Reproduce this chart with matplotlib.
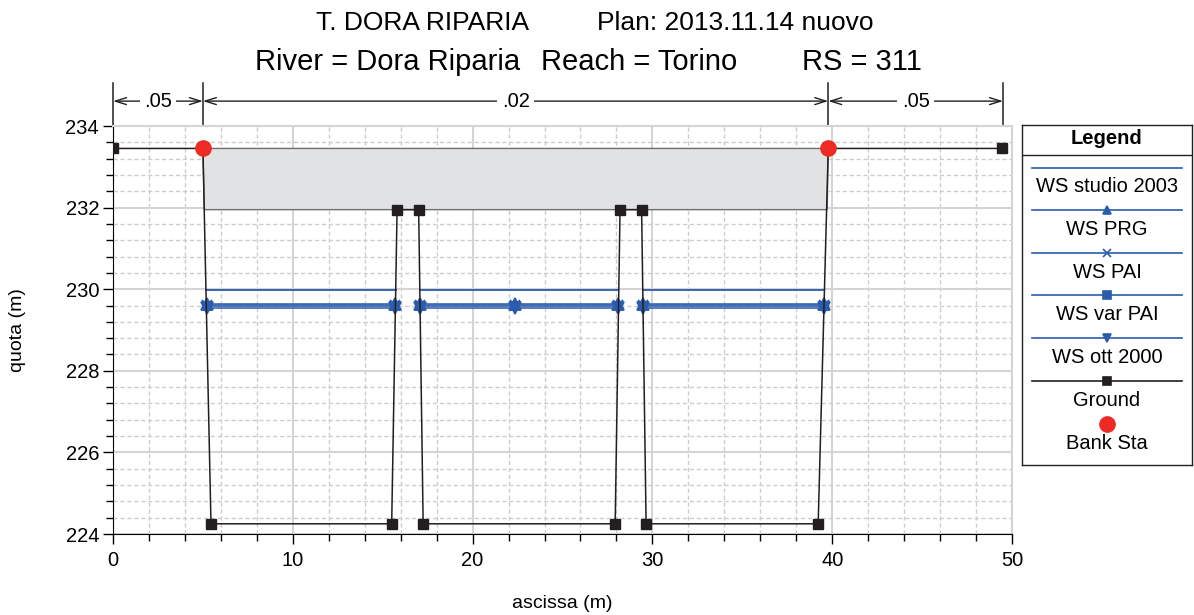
import numpy as np
import matplotlib.pyplot as plt
from matplotlib.patches import Polygon
import matplotlib.transforms as mtransforms

plt.rcParams['font.family'] = ['Liberation Sans', 'DejaVu Sans']

# ground profile (station, elevation)
ground_x = [0.0, 5.0, 5.45, 15.5, 15.8, 17.0, 17.25, 27.93, 28.2, 29.4, 29.65, 39.22, 39.78, 49.45]
ground_y = [233.45, 233.45, 224.25, 224.25, 231.95, 231.95, 224.25, 224.25,
            231.95, 231.95, 224.25, 224.25, 233.45, 233.45]

# bank stations
bank_x = [5.0, 39.78]
bank_y = [233.45, 233.45]

# bridge deck outline
deck_x = [5.0, 39.78, 39.72, 5.08]
deck_y = [233.45, 233.45, 231.95, 231.95]

# water surfaces
ws2003_x = [5.19, 15.72, np.nan, 17.06, 28.09, np.nan, 29.45, 39.56]
ws2003_z = 229.98
ws_x = [5.21, 15.71, np.nan, 17.07, 22.37, 28.08, np.nan, 29.46, 39.55]
ws_names = ['WS PRG', 'WS PAI', 'WS var PAI', 'WS ott 2000']
ws_z = [229.64, 229.61, 229.58, 229.55]
ws_markers = ['^', 'x', 's', 'v']
ws_msize = [8, 7, 5.5, 8]

# Manning's n zones
n_bounds = [0.0, 5.0, 39.78, 49.5]
n_labels = ['.05', '.02', '.05']

blue = '#2b5cab'
dark = '#231f20'

fig = plt.figure(figsize=(11.94, 6.15), dpi=100)
ax = fig.add_axes([113 / 1194, 81 / 615, 899 / 1194, 408 / 615])

ax.add_patch(Polygon(np.column_stack([deck_x, deck_y]), closed=True,
                     fc='#e1e2e4', ec='#6d6e71', lw=1.0, zorder=2))

ax.plot(ws2003_x, [ws2003_z] * len(ws2003_x), color=blue, lw=1.3, zorder=3)
for z, m, ms in zip(ws_z, ws_markers, ws_msize):
    ax.plot(ws_x, [z] * len(ws_x), color='#3a66b2', lw=1.2, marker=m, ms=ms,
            mew=1.2, mfc=blue, mec=blue, zorder=3)

ax.plot(ground_x, ground_y, color=dark, lw=1.1, marker='s', ms=7, zorder=4)
ax.plot(bank_x, bank_y, 'o', color='#ee2a24', ms=11, zorder=5)

ax.set_xlim(0, 50)
ax.set_ylim(224, 234)
ax.set_xticks(np.arange(0, 51, 10))
ax.set_xticks(np.arange(0, 51, 2), minor=True)
ax.set_yticks(np.arange(224, 235, 2))
ax.set_yticks(np.arange(224, 234.01, 0.4), minor=True)
ax.grid(which='major', color='#d4d4d4', lw=1.5, ls='-')
ax.grid(which='minor', color='#cdcdcd', lw=1.0, ls=(0, (3, 2)))
ax.set_axisbelow(True)
ax.tick_params(which='major', direction='out', length=7, width=1, labelsize=14.5, pad=3)
ax.tick_params(which='minor', direction='out', length=5, width=1)
ax.tick_params(axis='x', which='major', pad=5)
for s in ['top', 'right']:
    ax.spines[s].set_color('#d4d4d4')
    ax.spines[s].set_linewidth(1.5)
ax.set_xlabel('ascissa (m)', fontsize=14)
ax.set_ylabel('quota (m)', fontsize=14)
ax.xaxis.set_label_coords(0.5, (534 - 603) / 408, transform=ax.transAxes)
ax.yaxis.set_label_coords((18 - 113) / 899, 0.5, transform=ax.transAxes)
ax.xaxis.label.set_va('center')
ax.yaxis.label.set_va('center')

# n-value dimension lines above the plot
tr = mtransforms.blended_transform_factory(ax.transData, ax.transAxes)
for b in n_bounds:
    ax.plot([b, b], [1.0, 1.105], color=dark, lw=1.1, transform=tr, clip_on=False)
for i, lab in enumerate(n_labels):
    x0, x1 = n_bounds[i], n_bounds[i + 1]
    ax.annotate('', xy=(x0, 1.061), xytext=(x1, 1.061), xycoords=tr, textcoords=tr,
                arrowprops=dict(arrowstyle='<->,head_length=0.8,head_width=0.25',
                                color=dark, lw=1.0, shrinkA=0, shrinkB=0),
                annotation_clip=False)
    ax.text((x0 + x1) / 2, 1.061, lab, transform=tr, ha='center', va='center',
            fontsize=14.5, bbox=dict(fc='white', ec='none', pad=3), zorder=6)

# titles
fig.text(316 / 1194, 1 - 30 / 615, 'T. DORA RIPARIA', fontsize=19, ha='left', va='baseline')
fig.text(597 / 1194, 1 - 30 / 615, 'Plan: 2013.11.14 nuovo', fontsize=19, ha='left', va='baseline')
fig.text(255 / 1194, 1 - 70 / 615, 'River = Dora Riparia', fontsize=21, ha='left', va='baseline')
fig.text(541 / 1194, 1 - 70 / 615, 'Reach = Torino', fontsize=21, ha='left', va='baseline')
fig.text(802 / 1194, 1 - 70 / 615, 'RS = 311', fontsize=21, ha='left', va='baseline')

# legend panel, drawn in pixel units
lg = fig.add_axes([1022 / 1194, 150 / 615, 170 / 1194, 340 / 615])
lg.set_xlim(1022, 1192)
lg.set_ylim(465, 125)
lg.set_xticks([])
lg.set_yticks([])
for s in lg.spines.values():
    s.set_color(dark)
    s.set_linewidth(1.0)
lg.axhline(155, color=dark, lw=1.0)
lg.text(1107, 139, 'Legend', ha='center', va='center', fontsize=14.5, fontweight='bold')

leg_names = ['WS studio 2003'] + ws_names + ['Ground']
leg_markers = [None] + ws_markers + ['s']
leg_colors = [blue] * 5 + [dark]
for k, (name, m, c) in enumerate(zip(leg_names, leg_markers, leg_colors)):
    yl = 167.5 + k * 42.6
    lg.plot([1032, 1182], [yl, yl], color=c, lw=1.2)
    if m is not None:
        lg.plot([1107], [yl], marker=m, color=c, ms=6, mew=1.2)
    lg.text(1107, yl + 19.5, name, ha='center', va='center', fontsize=14.5)
lg.plot([1107], [423.5], 'o', color='#ee2a24', ms=11)
lg.text(1107, 443.5, 'Bank Sta', ha='center', va='center', fontsize=14.5)

fig.savefig('out.png', dpi=100)
